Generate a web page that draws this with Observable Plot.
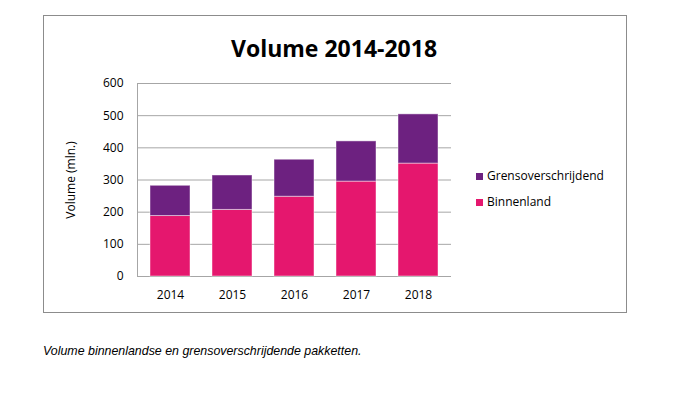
<!DOCTYPE html>
<html>
<head>
<meta charset="utf-8">
<script src="https://cdn.jsdelivr.net/npm/d3@7"></script>
<script src="https://cdn.jsdelivr.net/npm/@observablehq/plot@0.6"></script>
<style>
  html, body { margin: 0; padding: 0; background: #fff; }
  #wrap { position: relative; width: 676px; height: 398px; overflow: hidden; font-family: "Open Sans", sans-serif; }
  #box { position: absolute; left: 43px; top: 15px; width: 584px; height: 298px; border: 1px solid #8c8c8c; box-sizing: border-box; }
  #chart { position: absolute; left: 0; top: 0; }
  #title { position: absolute; left: 224px; width: 220px; top: 33px; line-height: 31px; text-align: center; font-weight: 700; font-size: 23px; color: #000; white-space: nowrap; }
  .leg { position: absolute; left: 476px; font-size: 12px; line-height: 16px; color: #000; white-space: nowrap; }
  .sw { position: absolute; width: 7px; height: 7px; left: 0; top: 5px; }
  .leg span.t { position: absolute; left: 11px; top: 0; }
  #caption { position: absolute; left: 43px; top: 344px; font-family: "Liberation Sans", Arial, sans-serif; font-style: italic; font-size: 12.4px; line-height: 14px; color: #000; white-space: nowrap; }
</style>
</head>
<body>
<div id="wrap">
  <div id="box"></div>
  <div id="chart"></div>
  <div id="title"></div>
  <div id="legend"></div>
  <div id="caption"></div>
</div>
<script>
const titleText = "Volume 2014-2018";
const captionText = "Volume binnenlandse en grensoverschrijdende pakketten.";
const yLabel = "Volume (mln.)";
const years = ["2014", "2015", "2016", "2017", "2018"];
const seriesNames = ["Binnenland", "Grensoverschrijdend"];
const seriesColors = ["#e5176e", "#6d2180"];
const binnenland = [188, 207, 248, 295, 351];
const grensoverschrijdend = [94, 107, 115, 125, 153];
const yTicks = [0, 100, 200, 300, 400, 500, 600];

const data = [];
years.forEach((yr, i) => {
  data.push({year: yr, series: seriesNames[0], value: binnenland[i]});
  data.push({year: yr, series: seriesNames[1], value: grensoverschrijdend[i]});
});

const chart = Plot.plot({
  width: 676,
  height: 398,
  marginLeft: 137,
  marginRight: 225,
  marginTop: 83,
  marginBottom: 122,
  style: {fontFamily: "Open Sans, sans-serif", fontSize: "12px", color: "#000", background: "transparent"},
  x: {domain: years, paddingInner: 0.35, paddingOuter: 0.175, label: null},
  y: {domain: [0, 600], ticks: yTicks, label: yLabel},
  color: {domain: seriesNames, range: seriesColors},
  marks: [
    Plot.ruleY(yTicks, {stroke: "#a6a6a6", strokeWidth: 1}),
    Plot.barY(data, {x: "year", y: "value", fill: "series", stroke: "#ffffff", strokeOpacity: 0.45, strokeWidth: 1}),
    Plot.frame({anchor: "left", stroke: "#a6a6a6"}),
    Plot.axisX({tickSize: 0, tickPadding: 14, label: null, fill: "#000"}),
    Plot.axisY({ticks: yTicks, tickSize: 0, tickPadding: 14, label: yLabel, labelAnchor: "center", labelOffset: 71, labelArrow: "none", fill: "#000"})
  ]
});
document.getElementById("chart").appendChild(chart);

document.getElementById("title").textContent = titleText;
document.getElementById("caption").textContent = captionText;

const legend = document.getElementById("legend");
const legendOrder = [1, 0];
const legendTops = [168, 194];
legendOrder.forEach((si, k) => {
  const d = document.createElement("div");
  d.className = "leg";
  d.style.top = legendTops[k] + "px";
  const sw = document.createElement("div");
  sw.className = "sw";
  sw.style.background = seriesColors[si];
  const t = document.createElement("span");
  t.className = "t";
  t.textContent = seriesNames[si];
  d.appendChild(sw);
  d.appendChild(t);
  legend.appendChild(d);
});
</script>
</body>
</html>
